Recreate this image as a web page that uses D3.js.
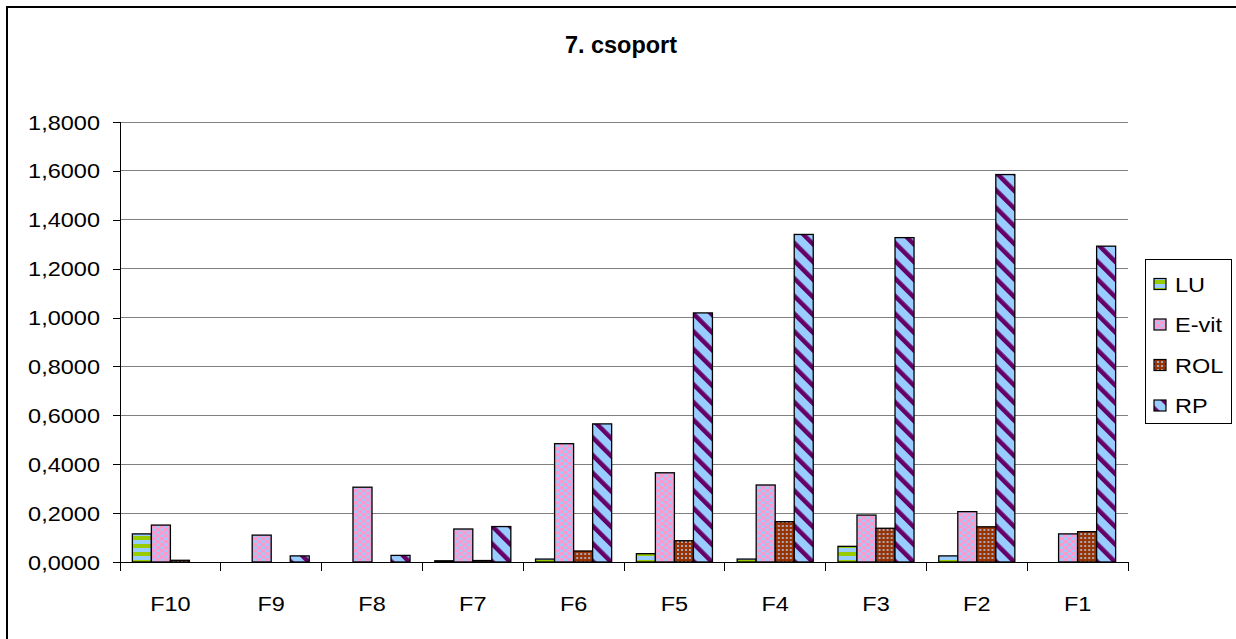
<!DOCTYPE html>
<html>
<head>
<meta charset="utf-8">
<script src="https://cdn.jsdelivr.net/npm/d3@7/dist/d3.min.js"></script>
<style>
  html, body { margin: 0; padding: 0; background: #fff; }
  svg { display: block; font-family: "Liberation Sans", Arial, sans-serif; }
</style>
</head>
<body>
<svg id="chart" width="1236" height="639"></svg>
<script>
// Group means per category (F10 ... F1) for each treatment series
const categories = ["F10", "F9", "F8", "F7", "F6", "F5", "F4", "F3", "F2", "F1"];
const seriesNames = ["LU", "E-vit", "ROL", "RP"];
const luValues   = [0.115, 0, 0, 0.005, 0.012, 0.034, 0.012, 0.064, 0.025, 0];
const evitValues = [0.151, 0.110, 0.306, 0.135, 0.484, 0.365, 0.315, 0.192, 0.206, 0.115];
const rolValues  = [0.007, 0, 0, 0.006, 0.045, 0.087, 0.165, 0.138, 0.144, 0.124];
const rpValues   = [0, 0.025, 0.027, 0.145, 0.565, 1.019, 1.340, 1.327, 1.585, 1.292];
const yTicks = [0, 0.2, 0.4, 0.6, 0.8, 1.0, 1.2, 1.4, 1.6, 1.8];
const titleText = "7. csoport";

const seriesValues = [luValues, evitValues, rolValues, rpValues];
const svg = d3.select("#chart");

// ---- fill patterns ----
const defs = svg.append("defs");

// LU: horizontal green / light-blue stripes
const pLU = defs.append("pattern").attr("id", "pat-lu").attr("patternUnits", "userSpaceOnUse")
  .attr("width", 8).attr("height", 8);
pLU.append("rect").attr("width", 8).attr("height", 8).attr("fill", "#99ccff");
pLU.append("rect").attr("width", 8).attr("height", 4).attr("fill", "#99cc00");

// E-vit: pink with staggered light-blue dots
const pEV = defs.append("pattern").attr("id", "pat-ev").attr("patternUnits", "userSpaceOnUse")
  .attr("width", 8).attr("height", 6);
pEV.append("rect").attr("width", 8).attr("height", 6).attr("fill", "#ff99cc");
pEV.append("rect").attr("x", 0.5).attr("y", 0.5).attr("width", 3.5).attr("height", 2.5).attr("fill", "#99ccff");
pEV.append("rect").attr("x", 4.5).attr("y", 3.5).attr("width", 3.5).attr("height", 2.5).attr("fill", "#99ccff");

// ROL: brown with a fine grid of pale dots
const pRO = defs.append("pattern").attr("id", "pat-ro").attr("patternUnits", "userSpaceOnUse")
  .attr("width", 4).attr("height", 4);
pRO.append("rect").attr("width", 4).attr("height", 4).attr("fill", "#993300");
pRO.append("rect").attr("x", 1).attr("y", 1).attr("width", 2).attr("height", 2).attr("fill", "#a8a8c0");

// RP: light blue with dark purple diagonal stripes
const pRP = defs.append("pattern").attr("id", "pat-rp").attr("patternUnits", "userSpaceOnUse")
  .attr("width", 12.5).attr("height", 12.5).attr("patternTransform", "rotate(-45)");
pRP.append("rect").attr("width", 12.5).attr("height", 12.5).attr("fill", "#99ccff");
pRP.append("rect").attr("width", 4.5).attr("height", 12.5).attr("fill", "#660066");

const fills = ["url(#pat-lu)", "url(#pat-ev)", "url(#pat-ro)", "url(#pat-rp)"];

// text helper: horizontally widened glyphs
const SX = 1.12;
function addText(g, x, y, str, opts = {}) {
  return g.append("text")
    .attr("transform", `translate(${x},${y}) scale(${opts.sx || SX},1)`)
    .attr("text-anchor", opts.anchor || "start")
    .attr("font-size", opts.size || 21)
    .attr("font-weight", opts.weight || "normal")
    .attr("fill", "#000")
    .text(str);
}

// outer frame
svg.append("rect").attr("x", 7).attr("y", 7).attr("width", 1240).attr("height", 640)
  .attr("fill", "none").attr("stroke", "#000").attr("stroke-width", 2);

// ---- scales ----
const plot = { left: 120, right: 1128, top: 122, bottom: 562 };
const y = d3.scaleLinear().domain([0, 1.8]).range([plot.bottom, plot.top]);
const x0 = d3.scaleBand().domain(categories).range([plot.left, plot.right]).padding(0);
const x1 = d3.scaleBand().domain(seriesNames).range([0, x0.bandwidth()])
  .paddingInner(0).paddingOuter(0.65);

// gridlines
svg.append("g").selectAll("line").data(yTicks.filter(t => t > 0)).join("line")
  .attr("x1", plot.left).attr("x2", plot.right)
  .attr("y1", d => y(d)).attr("y2", d => y(d))
  .attr("stroke", "#808080").attr("stroke-width", 1).attr("shape-rendering", "crispEdges");

// y axis
const fmt = d => d3.format(".4f")(d).replace(".", ",");
const yAxis = svg.append("g").attr("transform", `translate(${plot.left},0)`)
  .call(d3.axisLeft(y).tickValues(yTicks).tickSize(7).tickFormat(""));
yAxis.select(".domain").remove();
yAxis.selectAll(".tick line").attr("stroke", "#000").attr("shape-rendering", "crispEdges");
svg.append("line").attr("x1", plot.left).attr("x2", plot.left)
  .attr("y1", plot.top).attr("y2", plot.bottom + 9)
  .attr("stroke", "#000").attr("shape-rendering", "crispEdges");
const yLab = svg.append("g");
yTicks.forEach(t => addText(yLab, 100, y(t) + 7.5, fmt(t), { anchor: "end" }));

// bars
const groups = svg.append("g").selectAll("g").data(categories).join("g")
  .attr("transform", d => `translate(${x0(d)},0)`);
groups.selectAll("rect")
  .data((c, ci) => seriesNames.map((s, si) => ({ s, si, v: seriesValues[si][ci] })).filter(d => d.v > 0))
  .join("rect")
  .attr("x", d => x1(d.s))
  .attr("width", x1.bandwidth())
  .attr("y", d => y(d.v))
  .attr("height", d => y(0) - y(d.v))
  .attr("fill", d => fills[d.si])
  .attr("stroke", "#000").attr("stroke-width", 1.3);

// x axis
const xAxis = svg.append("g").attr("transform", `translate(0,${plot.bottom})`);
xAxis.append("line").attr("x1", plot.left).attr("x2", plot.right).attr("y1", 0).attr("y2", 0)
  .attr("stroke", "#000").attr("shape-rendering", "crispEdges");
const boundaries = categories.map(c => x0(c)).concat([plot.right]);
xAxis.selectAll("line.tk").data(boundaries.slice(1)).join("line").attr("class", "tk")
  .attr("x1", d => d).attr("x2", d => d).attr("y1", 0).attr("y2", 9)
  .attr("stroke", "#000").attr("shape-rendering", "crispEdges");
const xLab = svg.append("g");
categories.forEach(c => addText(xLab, x0(c) + x0.bandwidth() / 2, 611, c, { anchor: "middle" }));

// title
addText(svg, 621, 53, titleText, { anchor: "middle", weight: "bold", size: 23, sx: 1.02 });

// legend
const lg = svg.append("g");
lg.append("rect").attr("x", 1145.5).attr("y", 259.5).attr("width", 86).attr("height", 164)
  .attr("fill", "#fff").attr("stroke", "#000").attr("stroke-width", 1);
seriesNames.forEach((s, i) => {
  const base = 291.5 + i * 40.5;
  lg.append("rect").attr("x", 1154).attr("y", base - 13).attr("width", 12).attr("height", 11)
    .attr("fill", fills[i]).attr("stroke", "#000").attr("stroke-width", 1.2);
  addText(lg, 1175, base, s);
});
</script>
</body>
</html>
